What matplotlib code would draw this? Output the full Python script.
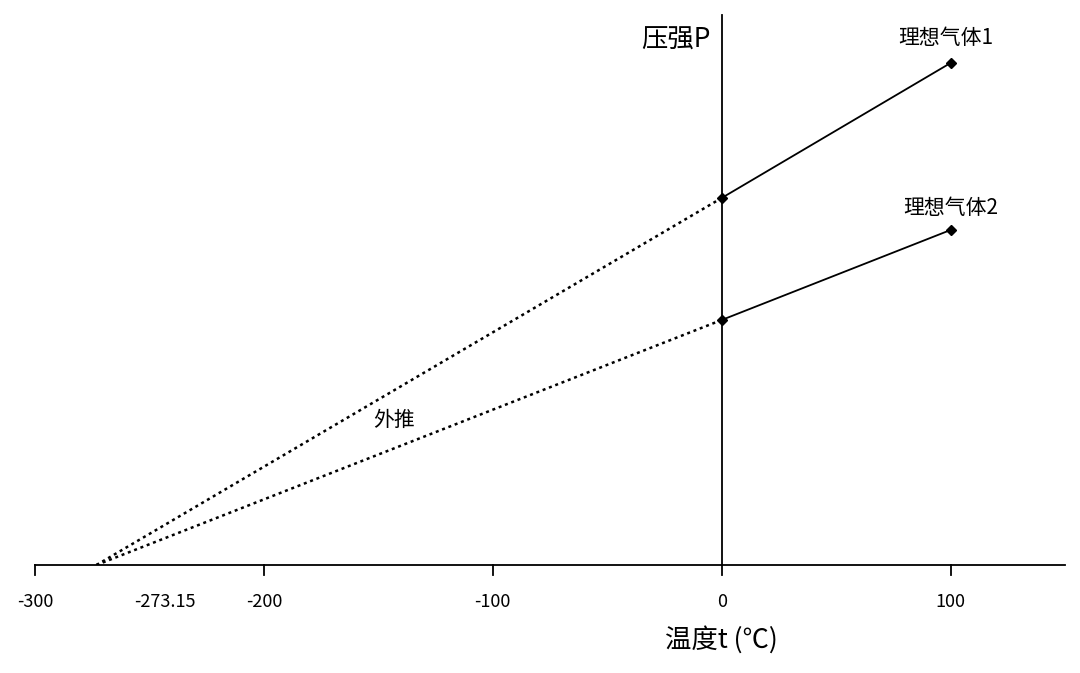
import matplotlib
matplotlib.use("Agg")
import matplotlib.pyplot as plt

plt.rcParams['font.family'] = ['Noto Sans CJK SC', 'DejaVu Sans']

t = [0, 100]
gas1 = [367, 502]
gas2 = [245, 335]
t_zero = -273.15
xticks = [-300, -200, -100, 0, 100]

fig = plt.figure(figsize=(10.8, 6.73), dpi=100)
ax = fig.add_axes([35/1080, 108/673, 1030/1080, 550/673])
ax.set_xlim(-300, 150)
ax.set_ylim(0, 550)
ax.axis('off')

ax.plot([-300, 150], [0, 0], color='black', lw=1.3, clip_on=False)
ax.plot([0, 0], [0, 550], color='black', lw=1.3, clip_on=False)
for x in xticks:
    ax.plot([x, x], [0, -10], color='black', lw=1.3, clip_on=False)
    ax.text(x, -28, str(x), ha='center', va='top', fontsize=13)
ax.text(t_zero + 30, -28, "-273.15", ha='center', va='top', fontsize=13)

for g in (gas1, gas2):
    ax.plot(t, g, color='black', lw=1.3, marker='D', markersize=5)
    ax.plot([t_zero, 0], [0, g[0]], color='black', lw=1.8, ls=(0, (1.2, 1.5)))

ax.text(-5, 525, "压强P", ha='right', va='center', fontsize=19)
ax.text(98, 527, "理想气体1", ha='center', va='center', fontsize=15)
ax.text(100, 357, "理想气体2", ha='center', va='center', fontsize=15)
ax.text(-143, 145, "外推", ha='center', va='center', fontsize=15)
ax.text(0, -75, "温度t (℃)", ha='center', va='center', fontsize=19)

fig.savefig("out.png", dpi=100)
